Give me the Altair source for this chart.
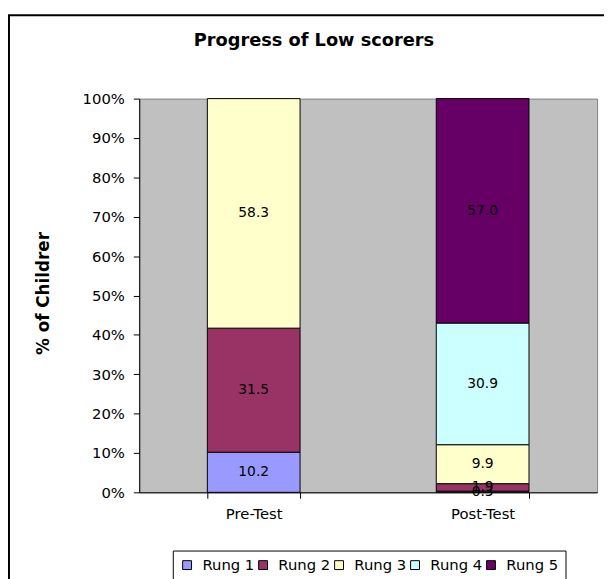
import altair as alt
import pandas as pd

tests = ["Pre-Test", "Post-Test"]
rungs = ["Rung 1", "Rung 2", "Rung 3", "Rung 4", "Rung 5"]
pre_values = [10.2, 31.5, 58.3, 0.0, 0.0]
post_values = [0.3, 1.9, 9.9, 30.9, 57.0]
colors = ["#9999FF", "#993366", "#FFFFCC", "#CCFFFF", "#660066"]
y_ticks = [0, 10, 20, 30, 40, 50, 60, 70, 80, 90, 100]

rows = []
for test, vals in zip(tests, [pre_values, post_values]):
    for i, (r, v) in enumerate(zip(rungs, vals)):
        if v > 0:
            rows.append({"test": test, "rung": r, "order": i, "value": v})
df = pd.DataFrame(rows)

FONT = "DejaVu Sans"

base = alt.Chart(df).transform_stack(
    stack="value", as_=["v0", "v1"], groupby=["test"],
    sort=[alt.SortField("order", "ascending")]
).transform_calculate(mid="(datum.v0 + datum.v1) / 2")

xscale = alt.Scale(paddingInner=0.595, paddingOuter=0.2975)
yscale = alt.Scale(domain=[0, 100], nice=False)

xaxis = alt.Axis(title=None, labelAngle=0, tickBand="extent",
                 labelFont=FONT, labelFontSize=15, labelColor="black",
                 tickColor="black", domainColor="black", tickSize=6,
                 labelPadding=9)
yaxis = alt.Axis(values=y_ticks, labelExpr="datum.value + '%'",
                 title="% of Childrer", grid=False, labelOverlap=False,
                 labelFont=FONT, labelFontSize=15, labelColor="black",
                 tickColor="black", domainColor="black", tickSize=6,
                 labelPadding=9,
                 titleFont=FONT, titleFontSize=17, titleFontWeight="bold",
                 titleColor="black", titleAngle=-90,
                 titleX=-97, titleY=197, titleAlign="center",
                 titleBaseline="middle")

bars = base.mark_bar(stroke="black", strokeWidth=1).encode(
    x=alt.X("test:N", sort=tests, scale=xscale, axis=xaxis),
    y=alt.Y("v0:Q", scale=yscale, axis=yaxis),
    y2="v1:Q",
    color=alt.Color("rung:N", sort=rungs,
                    scale=alt.Scale(domain=rungs, range=colors),
                    legend=alt.Legend(orient="none", legendX=34, legendY=458,
                                      direction="horizontal", columns=5, title=None,
                                      strokeColor="black", fillColor="white",
                                      padding=7, symbolType="square", symbolSize=81,
                                      symbolStrokeColor="black", symbolStrokeWidth=1,
                                      labelFont=FONT, labelFontSize=15,
                                      labelColor="black", labelOffset=8,
                                      columnPadding=1)),
    order=alt.Order("order:Q"),
)

labels = base.mark_text(font=FONT, fontSize=14, color="black").encode(
    x=alt.X("test:N", sort=tests, scale=xscale, axis=xaxis),
    y=alt.Y("mid:Q", scale=yscale, axis=yaxis),
    text=alt.Text("value:Q", format=".1f"),
)

frame = alt.Chart(pd.DataFrame({"k": [0]})).mark_rect(
    fill="transparent", stroke="black", strokeWidth=2
).encode(
    x=alt.value(-132), x2=alt.value(500),
    y=alt.value(-84.5), y2=alt.value(600),
)

chart = alt.layer(frame, bars, labels).properties(
    width=464, height=399,
    title=alt.TitleParams("Progress of Low scorers", font=FONT, fontSize=18,
                          fontWeight="bold", color="black", anchor="middle",
                          dx=-55, offset=-36.5),
    autosize=alt.AutoSizeParams(type="none"),
    padding={"left": 133, "top": 88, "right": 7, "bottom": 84},
    background="white",
).configure_view(
    fill="#C0C0C0", stroke="#808080", strokeWidth=1
)

chart.save("out.html", embed_options={"renderer": "svg", "actions": False})
